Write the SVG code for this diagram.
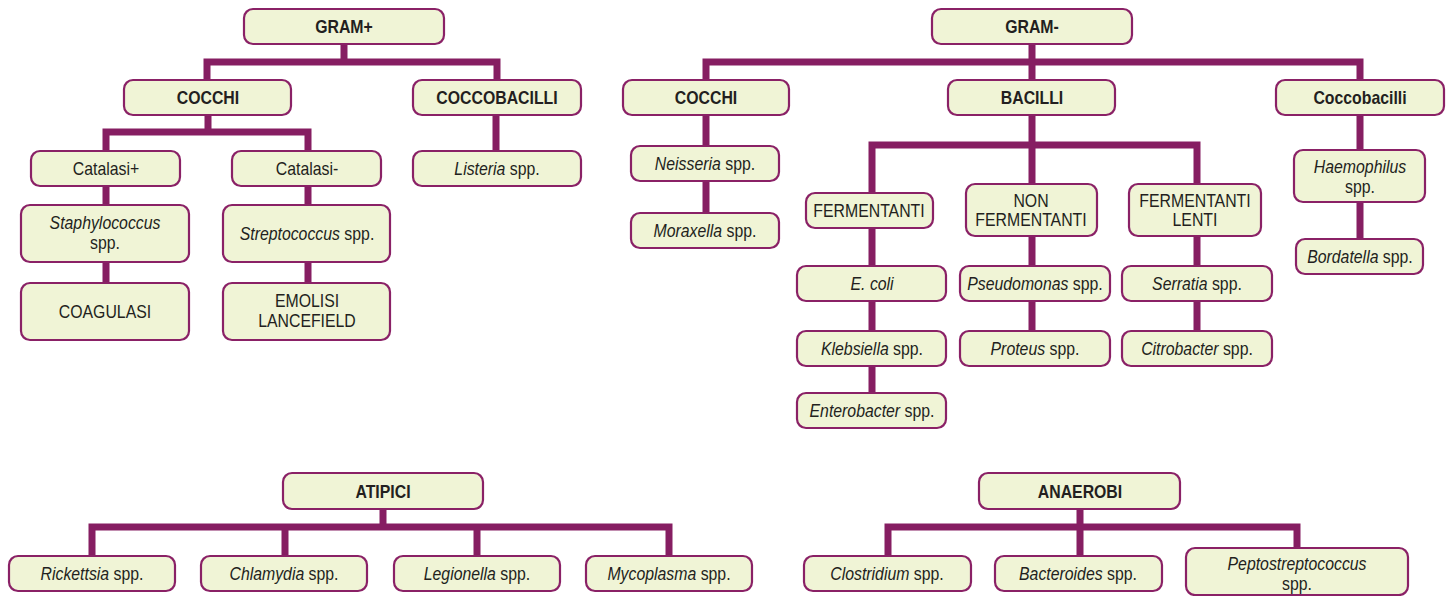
<svg xmlns="http://www.w3.org/2000/svg" width="1451" height="596" viewBox="0 0 1451 596">
<style>
.n{fill:#f0f4d6;stroke:#8a2166;stroke-width:2.2}
.t{font-family:"Liberation Sans Narrow","Liberation Sans",sans-serif;font-size:18px;fill:#231f20;text-anchor:middle;transform-box:fill-box;transform-origin:center;transform:scaleX(0.88)}
.b{font-weight:bold}
.i{font-style:italic}
.c{fill:none;stroke:#861e62;stroke-width:7;stroke-linejoin:miter;stroke-linecap:square}
</style>
<rect width="1451" height="596" fill="#ffffff"/>
<g id="connectors">
<path class="c" d="M344,44 V62 M207,80 V62 H497 V80"/>
<path class="c" d="M208,115 V132 M106,151 V132 H308 V151"/>
<path class="c" d="M106,186 V283 M308,186 V283 M496,115 V151"/>
<path class="c" d="M1032,44 V80 M706,80 V62 H1360 V80"/>
<path class="c" d="M706,115 V213"/>
<path class="c" d="M1032,115 V184 M872,193 V145 H1197 V184"/>
<path class="c" d="M872,228 V393 M1032,236 V331 M1197,236 V331"/>
<path class="c" d="M1360,115 V239"/>
<path class="c" d="M383,509 V527 M92,556 V527 H669 V556 M285,527 V556 M477,527 V556"/>
<path class="c" d="M1080,509 V556 M888,556 V527 H1297 V548"/>
</g>
<g id="gram_pos"><rect class="n" x="244" y="9" width="200" height="35" rx="9"/><text class="t b" x="344" y="33">GRAM+</text></g>
<g id="gp_cocchi"><rect class="n" x="124" y="80" width="167" height="35" rx="9"/><text class="t b" x="208" y="104">COCCHI</text></g>
<g id="gp_coccobacilli"><rect class="n" x="413" y="80" width="168" height="35" rx="9"/><text class="t b" x="497" y="104">COCCOBACILLI</text></g>
<g id="catalasi_pos"><rect class="n" x="31" y="151" width="149" height="35" rx="9"/><text class="t" x="106" y="175">Catalasi+</text></g>
<g id="catalasi_neg"><rect class="n" x="232" y="151" width="149" height="35" rx="9"/><text class="t" x="307" y="175">Catalasi-</text></g>
<g id="listeria"><rect class="n" x="413" y="151" width="168" height="35" rx="9"/><text class="t" x="497" y="175"><tspan class="i">Listeria</tspan> spp.</text></g>
<g id="staphylococcus"><rect class="n" x="21" y="205" width="168" height="57" rx="9"/><text class="t" x="105" y="229"><tspan class="i">Staphylococcus</tspan><tspan x="105" y="249">spp.</tspan></text></g>
<g id="streptococcus"><rect class="n" x="223" y="205" width="167" height="57" rx="9"/><text class="t" x="307" y="240"><tspan class="i">Streptococcus</tspan> spp.</text></g>
<g id="coagulasi"><rect class="n" x="21" y="283" width="168" height="57" rx="9"/><text class="t" x="105" y="318">COAGULASI</text></g>
<g id="emolisi"><rect class="n" x="223" y="283" width="167" height="57" rx="9"/><text class="t" x="307" y="307">EMOLISI<tspan x="307" y="327">LANCEFIELD</tspan></text></g>

<g id="gram_neg"><rect class="n" x="932" y="9" width="200" height="35" rx="9"/><text class="t b" x="1032" y="33">GRAM-</text></g>
<g id="gn_cocchi"><rect class="n" x="623" y="80" width="166" height="35" rx="9"/><text class="t b" x="706" y="104">COCCHI</text></g>
<g id="bacilli"><rect class="n" x="948" y="80" width="167" height="35" rx="9"/><text class="t b" x="1032" y="104">BACILLI</text></g>
<g id="gn_coccobacilli"><rect class="n" x="1276" y="80" width="168" height="35" rx="9"/><text class="t b" x="1360" y="104">Coccobacilli</text></g>
<g id="neisseria"><rect class="n" x="631" y="146" width="148" height="35" rx="9"/><text class="t" x="705" y="170"><tspan class="i">Neisseria</tspan> spp.</text></g>
<g id="moraxella"><rect class="n" x="631" y="213" width="148" height="35" rx="9"/><text class="t" x="705" y="237"><tspan class="i">Moraxella</tspan> spp.</text></g>
<g id="fermentanti"><rect class="n" x="806" y="193" width="127" height="35" rx="9"/><text class="t" x="869" y="217">FERMENTANTI</text></g>
<g id="non_fermentanti"><rect class="n" x="966" y="184" width="131" height="52" rx="9"/><text class="t" x="1031" y="207">NON<tspan x="1031" y="226">FERMENTANTI</tspan></text></g>
<g id="fermentanti_lenti"><rect class="n" x="1129" y="184" width="132" height="52" rx="9"/><text class="t" x="1195" y="207">FERMENTANTI<tspan x="1195" y="226">LENTI</tspan></text></g>
<g id="ecoli"><rect class="n" x="797" y="266" width="149" height="35" rx="9"/><text class="t i" x="872" y="290">E. coli</text></g>
<g id="pseudomonas"><rect class="n" x="960" y="266" width="150" height="35" rx="9"/><text class="t" x="1035" y="290"><tspan class="i">Pseudomonas</tspan> spp.</text></g>
<g id="serratia"><rect class="n" x="1122" y="266" width="150" height="35" rx="9"/><text class="t" x="1197" y="290"><tspan class="i">Serratia</tspan> spp.</text></g>
<g id="klebsiella"><rect class="n" x="797" y="331" width="149" height="35" rx="9"/><text class="t" x="872" y="355"><tspan class="i">Klebsiella</tspan> spp.</text></g>
<g id="proteus"><rect class="n" x="960" y="331" width="150" height="35" rx="9"/><text class="t" x="1035" y="355"><tspan class="i">Proteus</tspan> spp.</text></g>
<g id="citrobacter"><rect class="n" x="1122" y="331" width="150" height="35" rx="9"/><text class="t" x="1197" y="355"><tspan class="i">Citrobacter</tspan> spp.</text></g>
<g id="enterobacter"><rect class="n" x="797" y="393" width="149" height="35" rx="9"/><text class="t" x="872" y="417"><tspan class="i">Enterobacter</tspan> spp.</text></g>
<g id="haemophilus"><rect class="n" x="1294" y="150" width="131" height="52" rx="9"/><text class="t" x="1360" y="173"><tspan class="i">Haemophilus</tspan><tspan x="1360" y="193">spp.</tspan></text></g>
<g id="bordatella"><rect class="n" x="1296" y="239" width="127" height="35" rx="9"/><text class="t" x="1360" y="263"><tspan class="i">Bordatella</tspan> spp.</text></g>

<g id="atipici"><rect class="n" x="283" y="473" width="200" height="36" rx="9"/><text class="t b" x="383" y="498">ATIPICI</text></g>
<g id="rickettsia"><rect class="n" x="9" y="556" width="166" height="35" rx="9"/><text class="t" x="92" y="580"><tspan class="i">Rickettsia</tspan> spp.</text></g>
<g id="chlamydia"><rect class="n" x="201" y="556" width="166" height="35" rx="9"/><text class="t" x="284" y="580"><tspan class="i">Chlamydia</tspan> spp.</text></g>
<g id="legionella"><rect class="n" x="394" y="556" width="166" height="35" rx="9"/><text class="t" x="477" y="580"><tspan class="i">Legionella</tspan> spp.</text></g>
<g id="mycoplasma"><rect class="n" x="586" y="556" width="166" height="35" rx="9"/><text class="t" x="669" y="580"><tspan class="i">Mycoplasma</tspan> spp.</text></g>

<g id="anaerobi"><rect class="n" x="979" y="473" width="201" height="36" rx="9"/><text class="t b" x="1080" y="498">ANAEROBI</text></g>
<g id="clostridium"><rect class="n" x="804" y="556" width="167" height="35" rx="9"/><text class="t" x="887" y="580"><tspan class="i">Clostridium</tspan> spp.</text></g>
<g id="bacteroides"><rect class="n" x="995" y="556" width="167" height="35" rx="9"/><text class="t" x="1078" y="580"><tspan class="i">Bacteroides</tspan> spp.</text></g>
<g id="peptostreptococcus"><rect class="n" x="1186" y="548" width="222" height="47" rx="9"/><text class="t" x="1297" y="570"><tspan class="i">Peptostreptococcus</tspan><tspan x="1297" y="590">spp.</tspan></text></g>
</svg>
